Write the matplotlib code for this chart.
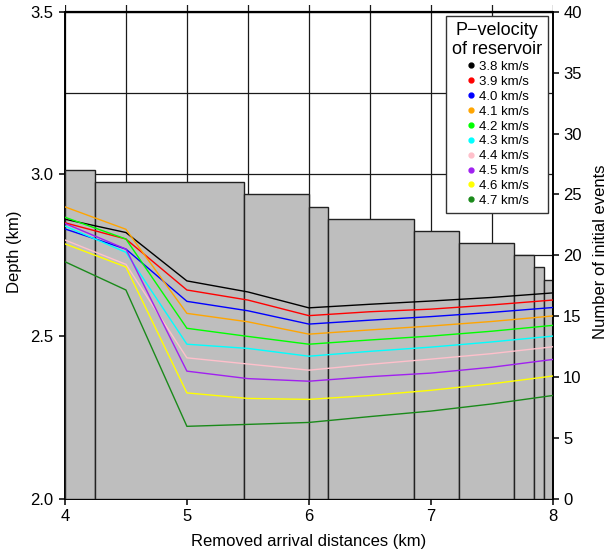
import numpy as np
import matplotlib
matplotlib.use("Agg")
import matplotlib.pyplot as plt
from matplotlib.lines import Line2D
from matplotlib.ticker import MultipleLocator

plt.rcParams['font.family'] = ['Liberation Sans', 'DejaVu Sans']

# histogram of initial events (variable bin edges)
bin_edges = [4.0, 4.25, 5.47, 6.0, 6.16, 6.86, 7.23, 7.68, 7.85, 7.925, 8.0]
n_events = [27, 26, 25, 24, 23, 22, 21, 20, 19, 18]

# reservoir depth for each P-velocity
dist = [4, 4.5, 5, 5.5, 6, 6.5, 7, 7.5, 8]
velocities = ["3.8", "3.9", "4.0", "4.1", "4.2", "4.3", "4.4", "4.5", "4.6", "4.7"]
colours = ["black", "red", "blue", "#FFA500", "#00FF00", "cyan", "#FFC0CB",
           "#A020F0", "#FFFF00", "#1A8A1A"]
d38 = [2.861, 2.820, 2.671, 2.637, 2.588, 2.599, 2.609, 2.620, 2.634]
d39 = [2.850, 2.800, 2.643, 2.612, 2.564, 2.576, 2.584, 2.597, 2.612]
d40 = [2.831, 2.769, 2.608, 2.579, 2.538, 2.550, 2.561, 2.574, 2.589]
d41 = [2.899, 2.830, 2.571, 2.545, 2.507, 2.520, 2.532, 2.546, 2.563]
d42 = [2.867, 2.800, 2.525, 2.500, 2.476, 2.489, 2.501, 2.516, 2.534]
d43 = [2.840, 2.759, 2.476, 2.463, 2.439, 2.454, 2.467, 2.483, 2.501]
d44 = [2.797, 2.722, 2.434, 2.415, 2.396, 2.414, 2.430, 2.447, 2.468]
d45 = [2.848, 2.769, 2.393, 2.370, 2.362, 2.376, 2.387, 2.405, 2.429]
d46 = [2.785, 2.714, 2.326, 2.309, 2.306, 2.318, 2.334, 2.354, 2.378]
d47 = [2.730, 2.643, 2.223, 2.229, 2.235, 2.253, 2.270, 2.292, 2.318]
depths = [d38, d39, d40, d41, d42, d43, d44, d45, d46, d47]

ytop = 3.52
rect = [0.107, 0.103, 0.8036, 0.8875]
fig = plt.figure(figsize=(6.07, 5.56), dpi=100)
ax = fig.add_axes(rect)

# depth axis: grid + left/bottom axes
ax.set_xlim(4, 8)
ax.set_ylim(2.0, ytop)
ax.xaxis.set_major_locator(MultipleLocator(1))
ax.xaxis.set_minor_locator(MultipleLocator(0.5))
ax.yaxis.set_major_locator(MultipleLocator(0.5))
ax.yaxis.set_minor_locator(MultipleLocator(0.25))
ax.grid(which='both', color='#1a1a1a', lw=0.9)
ax.axhline(3.5, color='black', lw=1.6)
ax.tick_params(which='minor', length=0)
ax.tick_params(which='major', direction='out', length=4.5, width=1.1, labelsize=12)
ax.tick_params(axis='y', pad=4)
ax.tick_params(axis='x', pad=3)
ax.set_yticks([2.0, 2.5, 3.0, 3.5])
ax.set_yticklabels(["2.0", "2.5", "3.0", "3.5"])
for s in ['top', 'right']:
    ax.spines[s].set_visible(False)
ax.spines['left'].set_bounds(2.0, 3.5)
ax.spines['left'].set_linewidth(1.4)
ax.spines['bottom'].set_linewidth(1.4)
ax.set_xlabel("Removed arrival distances (km)", fontsize=12, labelpad=7)
ax.set_ylabel("Depth (km)", fontsize=12, labelpad=6)

# count axis: bars
axb = ax.twinx()
axb.set_ylim(0, 40 * (ytop - 2.0) / 1.5)
widths = np.diff(bin_edges)
axb.bar(bin_edges[:-1], n_events, width=widths, align='edge',
        color='#BEBEBE', edgecolor='#222222', lw=1.0)
axb.set_yticks(range(0, 41, 5))
axb.tick_params(direction='out', length=4.5, width=1.1, labelsize=12, pad=3)
for s in ['top', 'left', 'bottom']:
    axb.spines[s].set_visible(False)
axb.spines['right'].set_bounds(0, 40)
axb.spines['right'].set_linewidth(1.4)
axb.set_ylabel("Number of initial events", fontsize=12, labelpad=8)

# lines on top
axl = fig.add_axes(rect, sharex=ax, sharey=ax)
axl.patch.set_visible(False)
axl.set_axis_off()
for d, c in zip(depths, colours):
    axl.plot(dist, d, color=c, lw=1.0)

handles = [Line2D([], [], ls='none', marker='o', ms=3.5, color=c) for c in colours]
labels = [v + " km/s" for v in velocities]
leg = axl.legend(handles, labels, title="P\u2212velocity\nof reservoir",
                 title_fontsize=13, fontsize=9.5, loc='upper right',
                 bbox_to_anchor=(548.3 / 607, 1 - 15.7 / 556),
                 bbox_transform=fig.transFigure, borderaxespad=0,
                 fancybox=False, framealpha=1, edgecolor='#333333',
                 handlelength=0.8, handletextpad=0.25, labelspacing=0.2,
                 borderpad=0.45)
leg.get_frame().set_linewidth(1.0)
leg.get_title().set_multialignment('center')

fig.savefig("out.png", dpi=100)
